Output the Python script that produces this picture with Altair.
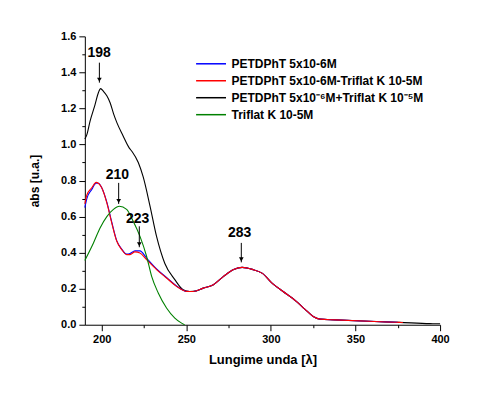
import altair as alt
import pandas as pd

S1 = "PETDPhT 5x10-6M"
S2 = "PETDPhT 5x10-6M-Triflat K 10-5M"
S3 = "PETDPhT 5x10\u207b\u2076M+Triflat K 10\u207b\u2075M"
S4 = "Triflat K 10-5M"
series_names = [S1, S2, S3, S4]
series_colors = ["#0000FF", "#FF0000", "#000000", "#008000"]

tail_x = [260, 266, 272, 278, 283, 289, 295, 301, 307, 315, 320, 325, 329, 338, 358, 376]
tail_y = [0.203, 0.222, 0.268, 0.306, 0.318, 0.307, 0.285, 0.228, 0.186, 0.13, 0.087, 0.046, 0.031, 0.027, 0.019, 0.013]

blue_x = [190, 191.2, 194.1, 196.7, 198, 200, 203, 205.9, 208.9, 211.8, 214.7, 216.7, 219.6, 222.6, 226.5, 232.4, 238.3, 244.2, 250.1, 254] + tail_x[:-1] + [375]
blue_y = [0.65, 0.70, 0.75, 0.785, 0.785, 0.76, 0.68, 0.57, 0.465, 0.42, 0.392, 0.395, 0.41, 0.41, 0.37, 0.31, 0.262, 0.215, 0.185, 0.184] + tail_y[:-1] + [0.013]

red_x = [190, 191.2, 194.1, 196.7, 198, 200, 203, 205.9, 208.9, 211.8, 214.7, 216.7, 219.6, 222.6, 226.5, 232.4, 238.3, 244.2, 250.1, 254] + tail_x + [378]
red_y = [0.67, 0.72, 0.76, 0.79, 0.785, 0.76, 0.676, 0.565, 0.463, 0.417, 0.389, 0.389, 0.404, 0.398, 0.361, 0.306, 0.259, 0.213, 0.185, 0.184] + tail_y + [0.012]

black_x = [190, 191.2, 193.1, 196, 198, 199.3, 201, 203, 205, 207, 209, 212.5, 216.3, 218, 221.6, 224.5, 228.5, 232.4, 237.3, 243.2, 248.1, 252, 256] + tail_x + [394, 400]
black_y = [1.03, 1.055, 1.13, 1.22, 1.287, 1.31, 1.295, 1.27, 1.23, 1.17, 1.12, 1.05, 0.98, 0.96, 0.90, 0.82, 0.66, 0.49, 0.34, 0.25, 0.194, 0.184, 0.188] + tail_y + [0.006, 0.005]

green_x = [190, 195.1, 199, 203, 206.9, 210.4, 214.7, 218.6, 222.6, 226.5, 229.5, 233.4, 238.3, 243.2, 247.2, 249]
green_y = [0.357, 0.454, 0.537, 0.60, 0.64, 0.657, 0.64, 0.574, 0.49, 0.38, 0.268, 0.176, 0.093, 0.037, 0.009, 0.0]

ann_label = ["198", "210", "223", "283"]
ann_text_x = [198.4, 209.2, 221.2, 281.5]
ann_text_y = [1.51, 0.828, 0.589, 0.509]
ann_x = [198.6, 210, 222.2, 282.5]
ann_top = [1.454, 0.787, 0.546, 0.454]
ann_tip = [1.343, 0.67, 0.43, 0.346]

y_ticks = [k / 10 for k in range(17)]
x_ticks = [200, 225, 250, 275, 300, 325, 350, 375, 400]

rows = []
for name, xs, ys in [(S1, blue_x, blue_y), (S2, red_x, red_y), (S3, black_x, black_y), (S4, green_x, green_y)]:
    for i, (a, b) in enumerate(zip(xs, ys)):
        rows.append({"series": name, "x": a, "y": b, "i": i})
df = pd.DataFrame(rows)

ann = pd.DataFrame({"label": ann_label, "tx": ann_text_x, "ty": ann_text_y,
                    "ax": ann_x, "atop": ann_top, "atip": ann_tip})

FONT = "Liberation Sans"

xscale = alt.Scale(domain=[190, 400], nice=False)
yscale = alt.Scale(domain=[0, 1.6], nice=False)

Y_MAJOR = "round(datum.value*10) % 2 == 0"
X_MAJOR = "datum.value % 50 == 0"

xaxis = alt.Axis(
    values=x_ticks, tickCount=40,
    labelExpr=X_MAJOR + " ? datum.label : ''",
    tickSize={"condition": {"test": X_MAJOR, "value": 6}, "value": 3},
    grid=False, title="Lungime unda [\u03bb]", titleFontSize=13, titleFont=FONT,
    titleFontWeight="bold", labelFont=FONT, labelFontWeight="bold", labelFontSize=11,
    domainColor="black", tickColor="black", labelColor="black", titleColor="black",
    titlePadding=9, labelPadding=3, labelOverlap=False, labelFlush=False,
)
yaxis = alt.Axis(
    values=y_ticks, tickCount=40, format=".1f",
    labelExpr=Y_MAJOR + " ? datum.label : ''",
    tickSize={"condition": {"test": Y_MAJOR, "value": 6}, "value": 3},
    grid=False, title="abs [u.a.]", titleFontSize=12, titleFont=FONT,
    titleFontWeight="bold", labelFont=FONT, labelFontWeight="bold", labelFontSize=11,
    domainColor="black", tickColor="black", labelColor="black", titleColor="black",
    titlePadding=19, labelPadding=3, labelOverlap=False, labelFlush=False,
)

color = alt.Color("series:N", scale=alt.Scale(domain=series_names, range=series_colors),
                  legend=alt.Legend(orient="none", legendX=118, legendY=19, title=None,
                                    symbolType="M-2,0L2,0", symbolSize=225, symbolStrokeWidth=1.5,
                                    labelFont=FONT, labelFontWeight="bold", labelFontSize=12,
                                    labelColor="black", rowPadding=2, labelOffset=12,
                                    labelLimit=0))

def line_layer(name):
    return alt.Chart(df).transform_filter(alt.datum.series == name).mark_line(
        strokeWidth=1.1, interpolate="monotone"
    ).encode(
        x=alt.X("x:Q", scale=xscale, axis=xaxis),
        y=alt.Y("y:Q", scale=yscale, axis=yaxis),
        color=color,
        order="i:Q",
    )

layers = [line_layer(S3), line_layer(S1), line_layer(S2), line_layer(S4)]

texts = alt.Chart(ann).mark_text(font=FONT, fontWeight="bold", fontSize=14, color="black").encode(
    x=alt.X("tx:Q", scale=xscale), y=alt.Y("ty:Q", scale=yscale), text="label:N")
stems = alt.Chart(ann).mark_rule(color="black", strokeWidth=1).encode(
    x=alt.X("ax:Q", scale=xscale), y=alt.Y("atop:Q", scale=yscale), y2="atip:Q")
heads = alt.Chart(ann).mark_point(shape="triangle-down", filled=True, color="black",
                                  size=22, opacity=1, yOffset=-3).encode(
    x=alt.X("ax:Q", scale=xscale), y=alt.Y("atip:Q", scale=yscale))

chart = alt.layer(*layers, stems, heads, texts).properties(
    width=356, height=289, autosize="none", background="white",
    padding={"left": 77, "top": 28, "right": 30, "bottom": 62},
).configure_view(stroke=None).configure_axis(labelOverlap=False)

chart.save("out.html", embed_options={"renderer": "svg", "actions": False})
